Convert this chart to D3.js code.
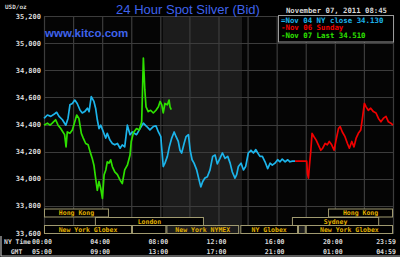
<!DOCTYPE html>
<html>
<head>
<meta charset="utf-8">
<script src="https://cdn.jsdelivr.net/npm/d3@7"></script>
<style>
  html, body { margin: 0; padding: 0; background: #000; }
  svg { display: block; }
  .mono { font-family: "DejaVu Sans Mono", monospace; font-weight: bold; }
</style>
</head>
<body>
<div id="chart"></div>
<script>
var width = 400
var height = 257

// time in minutes from 00:00 NY time, price in USD/oz * 1000
var closeTimes = [0,14,28,41,52,62,76,90,99,107,117,127,137,149,158,168,179,186,195,206,213,220,227,234,245,255,261,272,282,292,303,314,323,333,344,355,364,382,396,410,424,437,451,462,472,482,492,499,509,517,527,537,545,554,561,568,578,586,596,603,611,619,630,640,647,655,664,674,685,696,706,715,726,736,747,758,768,777,788,795,802,813,823,832,843,854,864,874,882,891,901,912,923,933,942,953,964,974,983,995,1006,1015,1025,1036];
var closeValues = [34445,34470,34460,34475,34490,34460,34435,34395,34445,34545,34555,34580,34555,34505,34485,34495,34520,34495,34605,34570,34520,34435,34370,34395,34345,34300,34335,34285,34260,34250,34260,34225,34250,34235,34395,34325,34345,34325,34370,34410,34385,34360,34385,34390,34345,34310,34090,34115,34165,34235,34300,34345,34310,34275,34210,34190,34260,34310,34325,34210,34140,34115,34065,33990,33940,33980,34005,34015,34065,34165,34175,34110,34150,34190,34150,34165,34115,34050,34005,34030,34090,34115,34065,34090,34190,34210,34190,34215,34190,34165,34165,34125,34075,34115,34100,34115,34140,34125,34145,34125,34140,34125,34130,34130];

var sundayTimes = [1036,1084,1087,1091,1095,1101,1106,1114,1123,1132,1142,1150,1160,1169,1177,1187,1197,1205,1215,1222,1231,1242,1252,1260,1270,1279,1288,1297,1307,1315,1322,1329,1338,1348,1359,1370,1380,1390,1400,1411,1421,1431,1440];
var sundayValues = [34130,34130,34040,34005,34090,34210,34335,34310,34285,34250,34210,34225,34260,34250,34275,34250,34210,34285,34370,34385,34345,34310,34260,34225,34275,34235,34300,34335,34360,34460,34555,34530,34505,34520,34495,34485,34445,34420,34445,34460,34420,34410,34395];

var todayTimes = [0,14,25,34,48,58,69,78,85,91,96,107,117,127,135,144,154,162,172,182,190,199,206,213,220,227,234,241,248,255,261,268,275,282,292,303,314,323,333,344,355,360,369,382,393,403,410,416,421,430,440,451,462,472,479,486,492,499,509,516,520,525];
var todayValues = [34395,34410,34395,34410,34435,34395,34370,34345,34325,34235,34345,34335,34360,34420,34470,34445,34335,34300,34260,34250,34200,34150,34100,34005,33915,33980,33930,33855,34030,34065,34125,34115,34140,34090,34050,34030,33990,33965,34065,34100,34175,34275,34340,34370,34360,34420,34890,34655,34530,34495,34505,34485,34505,34530,34570,34545,34485,34555,34545,34580,34530,34510];

var yTicks = [33600,33800,34000,34200,34400,34600,34800,35000,35200];
var xTicks = [0,240,480,720,960,1200,1439];
var nyLabels = ["00:00","04:00","08:00","12:00","16:00","20:00","23:59"];
var gmtLabels = ["05:00","09:00","13:00","17:00","21:00","01:00","04:59"];

var legendLabels = ["=Nov 04 NY close 34.130", "-Nov 06 Sunday", "-Nov 07 Last 34.510"];
var legendColors = ["#1cb4ea", "#f00000", "#2ee000"];

// sessions: name, row, start, end (minutes)
var sessionNames = ["Hong Kong", "Hong Kong", "London", "Sydney", "New York Globex", "", "New York NYMEX", "NY Globex", "", "New York Globex"];
var sessionRows = [0, 0, 1, 1, 2, 2, 2, 2, 2, 2];
var sessionStart = [0, 1172, 210, 1023, 0, 363, 505, 810, 1048, 1080];
var sessionEnd = [268, 1440, 660, 1383, 363, 505, 805, 1048, 1080, 1440];
var sessionFill = ["#000", "#000", "#000", "#000", "#000", "#000", "#1b1b1b", "#000", "#1b1b1b", "#000"];

var pitStart = 490, pitEnd = 817;

var svg = d3.select("#chart")
	.append("svg")
	.attr("width", width)
	.attr("height", height);

svg.append("rect")
	.attr("width", width)
	.attr("height", height)
	.attr("fill", "#000");

var x = d3.scaleLinear().domain([0, 1440]).range([44, 393]);
var y = d3.scaleLinear().domain([33600, 35200]).range([233, 16]);

svg.append("rect")
	.attr("x", x(0))
	.attr("y", y(35200))
	.attr("width", x(1440) - x(0))
	.attr("height", y(33600) - y(35200))
	.attr("fill", "#050505");

svg.append("rect")
	.attr("x", x(pitStart))
	.attr("y", y(35200))
	.attr("width", x(pitEnd) - x(pitStart))
	.attr("height", y(33600) - y(35200))
	.attr("fill", "#1c1c1c");

// grid
svg.append("g")
	.selectAll("line")
	.data(d3.range(0, 1441, 120))
	.enter()
	.append("line")
	.attr("x1", (d) => x(d) + 0.5)
	.attr("x2", (d) => x(d) + 0.5)
	.attr("y1", y(35200))
	.attr("y2", y(33600))
	.attr("stroke", "#3c3c3c")
	.attr("stroke-width", 1.2);

svg.append("g")
	.selectAll("line")
	.data(yTicks)
	.enter()
	.append("line")
	.attr("x1", x(0))
	.attr("x2", x(1440) + 1)
	.attr("y1", (d) => Math.round(y(d)) + 0.5)
	.attr("y2", (d) => Math.round(y(d)) + 0.5)
	.attr("stroke", "#3c3c3c")
	.attr("stroke-width", 1.2);

svg.append("g")
	.selectAll("text")
	.data(yTicks)
	.enter()
	.append("text")
	.attr("class", "mono")
	.attr("x", 41)
	.attr("y", (d) => y(d) + 2.5)
	.attr("text-anchor", "end")
	.attr("font-size", "7px")
	.attr("fill", "#d8d8d8")
	.text((d) => d3.format(",")(d));

// session bars
var rowTop = [209, 217.5, 225.5];
var rowH = 8;
var sess = svg.append("g")
	.selectAll("g")
	.data(sessionNames.map((n, i) => i))
	.enter()
	.append("g");

sess.append("rect")
	.attr("x", (i) => x(sessionStart[i]) + 0.5)
	.attr("y", (i) => rowTop[sessionRows[i]])
	.attr("width", (i) => x(sessionEnd[i]) - x(sessionStart[i]) - 1)
	.attr("height", rowH)
	.attr("fill", (i) => sessionFill[i])
	.attr("stroke", "#a09a70")
	.attr("stroke-width", 1);

sess.append("text")
	.attr("class", "mono")
	.attr("x", (i) => (x(sessionStart[i]) + x(sessionEnd[i])) / 2)
	.attr("y", (i) => rowTop[sessionRows[i]] + 6.3)
	.attr("text-anchor", "middle")
	.attr("font-size", "6.5px")
	.attr("fill", "#e0b000")
	.text((i) => sessionNames[i]);

// price lines
var line = d3.line()
	.x((d) => x(d[0]))
	.y((d) => y(d[1]));

var series = [
	{ t: closeTimes, v: closeValues, c: legendColors[0] },
	{ t: sundayTimes, v: sundayValues, c: legendColors[1] },
	{ t: todayTimes, v: todayValues, c: legendColors[2] }
];

svg.append("g")
	.selectAll("path")
	.data(series)
	.enter()
	.append("path")
	.attr("d", (s) => line(s.t.map((t, i) => [t, s.v[i]])))
	.attr("fill", "none")
	.attr("stroke", (s) => s.c)
	.attr("stroke-width", 1.7)
	.attr("stroke-linejoin", "round");

// x axis labels
var xl = svg.append("g");
xl.selectAll(".ny")
	.data(xTicks)
	.enter()
	.append("text")
	.attr("class", "mono ny")
	.attr("x", (d, i) => i == 0 ? 32 : (i == xTicks.length - 1 ? 396 : x(d) - 2))
	.attr("y", 244)
	.attr("text-anchor", (d, i) => i == 0 ? "start" : (i == xTicks.length - 1 ? "end" : "middle"))
	.attr("font-size", "6.6px")
	.attr("fill", "#d8d8d8")
	.text((d, i) => nyLabels[i]);

xl.selectAll(".gmt")
	.data(xTicks)
	.enter()
	.append("text")
	.attr("class", "mono gmt")
	.attr("x", (d, i) => i == 0 ? 32 : (i == xTicks.length - 1 ? 396 : x(d) - 2))
	.attr("y", 254)
	.attr("text-anchor", (d, i) => i == 0 ? "start" : (i == xTicks.length - 1 ? "end" : "middle"))
	.attr("font-size", "6.6px")
	.attr("fill", "#d8d8d8")
	.text((d, i) => gmtLabels[i]);

xl.append("text")
	.attr("class", "mono")
	.attr("x", 17.5).attr("y", 244)
	.attr("text-anchor", "middle")
	.attr("font-size", "6.4px")
	.attr("fill", "#d8d8d8")
	.text("NY Time");

xl.append("text")
	.attr("class", "mono")
	.attr("x", 16.5).attr("y", 254)
	.attr("text-anchor", "middle")
	.attr("font-size", "6.4px")
	.attr("fill", "#d8d8d8")
	.text("GMT");

// frame bits at bottom-left
svg.append("path")
	.attr("d", "M1,236V256H400")
	.attr("fill", "none")
	.attr("stroke", "#b8b8b8")
	.attr("stroke-width", 1.2);

// titles
svg.append("text")
	.attr("x", 5).attr("y", 9)
	.attr("class", "mono")
	.attr("font-size", "6px")
	.attr("fill", "#d8d8d8")
	.text("USD/oz");

svg.append("text")
	.attr("x", 188).attr("y", 14)
	.attr("text-anchor", "middle")
	.attr("font-family", "Liberation Sans, Arial, sans-serif")
	.attr("font-size", "13px")
	.attr("fill", "#3f63ec")
	.text("24 Hour Spot Silver (Bid)");

svg.append("text")
	.attr("x", 45).attr("y", 37)
	.attr("font-family", "Liberation Sans, Arial, sans-serif")
	.attr("font-weight", "bold")
	.attr("font-size", "11.5px")
	.attr("fill", "#3f63ec")
	.text("www.kitco.com");

svg.append("text")
	.attr("x", 387).attr("y", 12.5)
	.attr("text-anchor", "end")
	.attr("class", "mono")
	.attr("font-size", "7.3px")
	.attr("fill", "#d8d8d8")
	.text("November 07, 2011 08:45");

// legend
svg.append("rect")
	.attr("x", 278.5).attr("y", 15.5)
	.attr("width", 115).attr("height", 26.5)
	.attr("fill", "#000")
	.attr("stroke", "#9a9a9a")
	.attr("stroke-width", 1);

svg.append("g")
	.selectAll("text")
	.data(legendLabels)
	.enter()
	.append("text")
	.attr("class", "mono")
	.attr("x", 281)
	.attr("y", (d, i) => 22.5 + i * 7.5)
	.attr("font-size", "7.4px")
	.attr("fill", (d, i) => legendColors[i])
	.text((d) => d);
</script>
</body>
</html>
